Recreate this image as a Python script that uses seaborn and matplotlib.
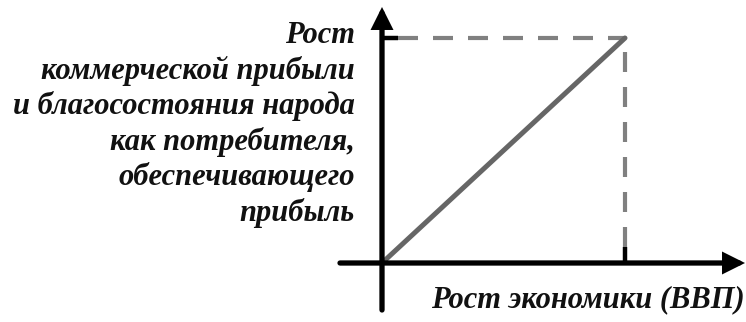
import matplotlib
matplotlib.use("Agg")
import matplotlib.pyplot as plt
import pandas as pd
import seaborn as sns

# Chart values: economy growth vs. profit/welfare growth (schematic, linear)
gdp_growth = [0.0, 1.0]
profit_growth = [0.0, 1.0]

y_label_lines = [
    "Рост",
    "коммерческой прибыли",
    "и благосостояния народа",
    "как потребителя,",
    "обеспечивающего",
    "прибыль",
]
x_label = "Рост экономики (ВВП)"

sns.set_theme(style="white")
plt.rcParams["font.family"] = ["Liberation Serif", "DejaVu Serif"]

W, H = 746, 322
fig = plt.figure(figsize=(W / 100, H / 100), dpi=100)
ax = fig.add_axes([0, 0, 1, 1])

# pixel layout of the origin and of the (1, 1) point
ox, oy = 382, 263
sx, sy = 243, 225


def px(x):
    return (x - ox) / sx


def py(y):
    return (oy - y) / sy


ax.set_xlim(px(0), px(W))
ax.set_ylim(py(H), py(0))
ax.axis("off")

# axes with arrow heads
arrow = dict(arrowstyle="-|>", lw=3.8, color="black", mutation_scale=26,
             shrinkA=0, shrinkB=0, joinstyle="miter")
ax.annotate("", xy=(px(745), 0), xytext=(px(340), 0), arrowprops=arrow)
ax.annotate("", xy=(0, py(7)), xytext=(0, py(310)), arrowprops=arrow)

x_end, y_end = gdp_growth[-1], profit_growth[-1]

# dashed projections of the end point
dash = dict(color="#808080", lw=3.0, dashes=(4.8, 3.6), solid_capstyle="butt")
ax.plot([px(398), x_end], [y_end, y_end], **dash)
ax.plot([x_end, x_end], [py(247), y_end], **dash)
# short black ticks
ax.plot([0, px(398)], [y_end, y_end], color="black", lw=3.2, solid_capstyle="butt")
ax.plot([x_end, x_end], [0, py(247)], color="black", lw=3.2, solid_capstyle="butt")

# growth line
df = pd.DataFrame({"gdp": gdp_growth, "profit": profit_growth})
sns.lineplot(data=df, x="gdp", y="profit", ax=ax, color="#666666", lw=3.6,
             solid_capstyle="round")

font = dict(fontsize=22, fontweight="bold", fontstyle="italic", color="#111111")
for i, line in enumerate(y_label_lines):
    ax.text(px(355), py(43 + i * 35.6), line, ha="right", va="baseline", **font)

ax.text(px(745), py(307), x_label, ha="right", va="baseline", **font)

fig.savefig("out.png", dpi=100, facecolor="white")
